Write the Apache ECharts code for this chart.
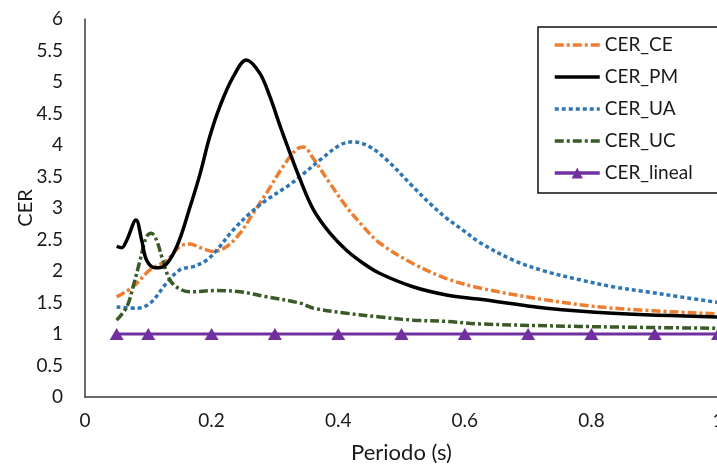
<!DOCTYPE html>
<html>
<head>
<meta charset="utf-8">
<script src="https://cdn.jsdelivr.net/npm/echarts@6/dist/echarts.min.js"></script>
<style>html,body{margin:0;padding:0;background:#fff;overflow:hidden;}#c{width:717px;height:466px;}</style>
</head>
<body>
<div id="c"></div>
<script>
// Periodo (s) and CER values
var ceX = [0.05,0.076,0.103,0.129,0.15,0.166,0.182,0.202,0.224,0.245,0.266,0.287,0.313,0.334,0.345,0.361,0.387,0.413,0.44,0.466,0.518,0.571,0.624,0.729,0.834,1.0];
var ceY = [1.59,1.75,2.02,2.17,2.39,2.43,2.37,2.31,2.39,2.6,2.92,3.24,3.66,3.93,3.97,3.78,3.39,3.02,2.70,2.44,2.12,1.88,1.73,1.54,1.41,1.32];

var pmX = [0.05,0.058,0.066,0.0806,0.0895,0.0974,0.111,0.124,0.145,0.166,0.182,0.197,0.213,0.234,0.255,0.276,0.292,0.31,0.34,0.361,0.387,0.413,0.44,0.466,0.518,0.571,0.624,0.729,0.834,1.0];
var pmY = [2.39,2.37,2.49,2.81,2.49,2.17,2.05,2.07,2.39,3.02,3.55,4.13,4.61,5.08,5.35,5.14,4.77,4.25,3.45,2.97,2.6,2.33,2.12,1.96,1.75,1.62,1.55,1.41,1.33,1.27];

var uaX = [0.05,0.082,0.103,0.129,0.15,0.171,0.192,0.208,0.234,0.261,0.287,0.319,0.34,0.371,0.403,0.424,0.45,0.477,0.518,0.545,0.571,0.597,0.624,0.677,0.729,0.782,0.834,0.887,0.94,1.0];
var uaY = [1.43,1.41,1.49,1.81,2.02,2.07,2.17,2.33,2.65,2.92,3.13,3.34,3.5,3.76,4.0,4.05,3.97,3.76,3.34,3.07,2.84,2.65,2.45,2.17,1.99,1.86,1.75,1.67,1.59,1.5];

var ucX = [0.05,0.066,0.076,0.087,0.097,0.105,0.113,0.123,0.134,0.147,0.166,0.208,0.245,0.287,0.34,0.361,0.413,0.466,0.518,0.571,0.624,0.782,1.0];
var ucY = [1.22,1.43,1.75,2.17,2.54,2.6,2.49,2.17,1.86,1.73,1.67,1.69,1.67,1.59,1.49,1.41,1.33,1.27,1.22,1.2,1.16,1.12,1.09];

var linX = [0.05,0.1,0.2,0.3,0.4,0.5,0.6,0.7,0.8,0.9,1.0];
var linY = [1,1,1,1,1,1,1,1,1,1,1];

var seriesNames = ['CER_CE','CER_PM','CER_UA','CER_UC','CER_lineal'];
var xTicks = {min:0, max:1, interval:0.2};
var yTicks = {min:0, max:6, interval:0.5};

function pairs(xs, ys){ return xs.map(function(x,i){ return [x, ys[i]]; }); }

var font = 'Lato';
var chart = echarts.init(document.getElementById('c'), null, {renderer:'canvas'});
var hidden = {opacity:0};
chart.setOption({
  animation:false,
  backgroundColor:'#ffffff',
  grid:{left:85, top:19, width:633, height:378, containLabel:false, outerBoundsMode:'none'},
  xAxis:{
    type:'value', min:xTicks.min, max:xTicks.max, interval:xTicks.interval,
    name:'Periodo (s)', nameLocation:'middle', nameGap:45,
    nameTextStyle:{fontFamily:font, fontSize:22, color:'#1a1a1a'},
    axisLine:{show:true, onZero:false, lineStyle:{color:'#3a3a3a', width:1.5}},
    axisTick:{show:false}, splitLine:{show:false},
    axisLabel:{fontFamily:font, fontSize:19, color:'#1a1a1a', margin:14, hideOverlap:false,
      formatter:function(v){ return String(Math.round(v*10)/10); }}
  },
  yAxis:{
    type:'value', min:yTicks.min, max:yTicks.max, interval:yTicks.interval,
    name:'CER', nameLocation:'middle', nameGap:49, nameMoveOverlap:false,
    nameTextStyle:{fontFamily:font, fontSize:20, color:'#1a1a1a'},
    axisLine:{show:true, lineStyle:{color:'#3a3a3a', width:1.5}},
    axisTick:{show:false}, splitLine:{show:false},
    axisLabel:{fontFamily:font, fontSize:19, color:'#1a1a1a', margin:22,
      formatter:function(v){ return String(Math.round(v*10)/10); }}
  },
  legend:{
    orient:'vertical', left:538, top:27,
    padding:[8,26,10,15], itemGap:12, itemWidth:45, itemHeight:14,
    backgroundColor:'#fff', borderColor:'#111', borderWidth:1.5,
    textStyle:{fontFamily:font, fontSize:19, color:'#1a1a1a', lineHeight:20},
    data:[
      {name:seriesNames[0], itemStyle:hidden, lineStyle:{width:3.5}},
      {name:seriesNames[1], itemStyle:hidden, lineStyle:{width:3.5}},
      {name:seriesNames[2], itemStyle:hidden, lineStyle:{width:3.5}},
      {name:seriesNames[3], itemStyle:hidden, lineStyle:{width:3.5}},
      {name:seriesNames[4], lineStyle:{width:3.5}}
    ]
  },
  series:[
    {name:seriesNames[0], type:'line', data:pairs(ceX,ceY), smooth:0.35, showSymbol:false, symbol:'none',
      lineStyle:{color:'#ED7D31', width:3.5, type:[9,3,3,3]}, itemStyle:{color:'#ED7D31'}, z:3},
    {name:seriesNames[1], type:'line', data:pairs(pmX,pmY), smooth:0.35, showSymbol:false, symbol:'none',
      lineStyle:{color:'#000000', width:3.5, type:'solid'}, itemStyle:{color:'#000'}, z:4},
    {name:seriesNames[2], type:'line', data:pairs(uaX,uaY), smooth:0.35, showSymbol:false, symbol:'none',
      lineStyle:{color:'#2E75B6', width:3.5, type:[4,3]}, itemStyle:{color:'#2E75B6'}, z:3},
    {name:seriesNames[3], type:'line', data:pairs(ucX,ucY), smooth:0.35, showSymbol:false, symbol:'none',
      lineStyle:{color:'#3A5A27', width:3.5, type:[9,3,3,3]}, itemStyle:{color:'#3A5A27'}, z:3},
    {name:seriesNames[4], type:'line', data:pairs(linX,linY), smooth:false, symbol:'triangle', symbolSize:[14,12], showSymbol:true,
      lineStyle:{color:'#7030A0', width:3}, itemStyle:{color:'#7030A0'}, z:2, clip:false}
  ]
});
</script>
</body>
</html>
